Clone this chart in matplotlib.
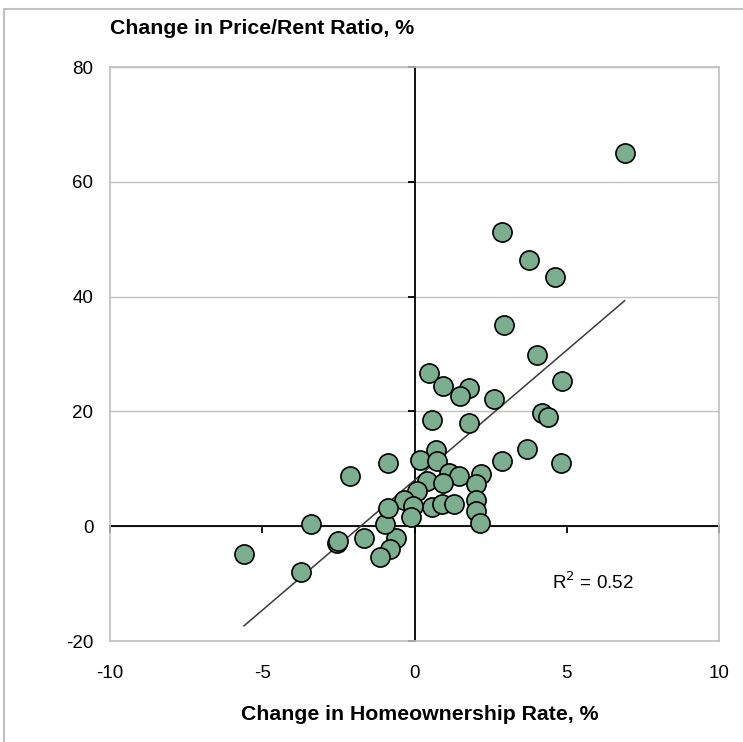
import numpy as np
import matplotlib
matplotlib.use("Agg")
import matplotlib.pyplot as plt
from matplotlib.patches import Rectangle

plt.rcParams['font.family'] = ['Liberation Sans', 'DejaVu Sans']

# change in homeownership rate (%) and change in price/rent ratio (%)
home_change = [6.9, 2.88, 3.77, 4.61, 2.93, 4.03, 0.47, 4.86, 0.93, 1.8,
               1.51, 2.6, 4.19, 4.37, 0.56, 1.8, 0.71, 3.69, 0.17, 0.73,
               2.88, 4.82, 1.13, 1.46, 2.19, 0.4, 0.93, 2.02, 0.08, -0.34,
               -0.05, 0.56, 0.91, 1.29, 2.02, 2.02, -0.12, 2.16, -0.62, -0.81,
               -1.13, -0.97, -0.87, -1.65, -2.56, -2.5, -2.11, -0.87, -3.41, -3.72,
               -5.6]
ratio_change = [65.0, 51.2, 46.3, 43.4, 35.1, 29.8, 26.7, 25.3, 24.5, 24.0,
                22.6, 22.1, 19.7, 19.0, 18.5, 17.9, 13.3, 13.5, 11.6, 11.4,
                11.3, 11.0, 9.3, 8.8, 9.1, 7.9, 7.6, 7.4, 6.2, 4.5,
                3.6, 3.3, 3.9, 3.9, 4.6, 2.6, 1.6, 0.6, -2.0, -4.0,
                -5.3, 0.35, 3.2, -2.1, -2.9, -2.6, 8.7, 11.0, 0.35, -8.0,
                -4.9]

x_ticks = [-10, -5, 0, 5, 10]
y_ticks = [-20, 0, 20, 40, 60, 80]
r2_label = "R$^2$ = 0.52"

x = np.array(home_change)
y = np.array(ratio_change)
slope, intercept = np.polyfit(x, y, 1)

fig = plt.figure(figsize=(7.43, 7.42), dpi=100)
pos = [110 / 743, 1 - 641 / 742, 609 / 743, 574 / 742]

# outer frame
fig.patches.append(Rectangle((4 / 743, -0.1), 1.2, (742 - 9) / 742 + 0.1,
                             transform=fig.transFigure, fill=False,
                             edgecolor='#c0c0c0', linewidth=1.5))

# background axes: gridlines and the axes through zero
ax0 = fig.add_axes(pos)
ax0.set_xlim(-10, 10)
ax0.set_ylim(-20, 80)
ax0.set_xticks(x_ticks)
ax0.set_yticks(y_ticks)
ax0.yaxis.grid(True, color='#c0c0c0', linewidth=1.0)
ax0.set_axisbelow(True)
for side in ['top', 'right']:
    ax0.spines[side].set_visible(False)
ax0.spines['left'].set_position(('data', 0))
ax0.spines['bottom'].set_position(('data', 0))
for side in ['left', 'bottom']:
    ax0.spines[side].set_color('black')
    ax0.spines[side].set_linewidth(1.3)
ax0.tick_params(direction='out', length=5, width=1.3, color='black',
                labelleft=False, labelbottom=False)

# front axes: frame, labels, points and trend line
ax = fig.add_axes(pos)
ax.set_facecolor('none')
ax.set_xlim(-10, 10)
ax.set_ylim(-20, 80)
ax.set_xticks(x_ticks)
ax.set_yticks(y_ticks)
ax.set_xticklabels([str(t) for t in x_ticks])
ax.set_yticklabels([str(t) for t in y_ticks])
for sp in ax.spines.values():
    sp.set_color('#c0c0c0')
    sp.set_linewidth(1.2)
ax.tick_params(axis='y', length=0, pad=12, labelsize=13.5)
ax.tick_params(axis='x', length=0, pad=17, labelsize=13.5)

xs = np.array([x.min(), x.max()])
ax.plot(xs, slope * xs + intercept, color='#3a3a3a', linewidth=1.1, zorder=2)
ax.scatter(x, y, s=190, facecolor='#7bae8e', edgecolor='black',
           linewidth=1.2, zorder=3, clip_on=False)

ax.text(4.5, -9.8, r2_label, fontsize=13.5, ha='left', va='center')

fig.text(110 / 743, 1 - 28 / 742, "Change in Price/Rent Ratio, %",
         fontsize=15.3, fontweight='bold', ha='left', va='center')
fig.text(420 / 743, 1 - 714 / 742, "Change in Homeownership Rate, %",
         fontsize=15.3, fontweight='bold', ha='center', va='center')

fig.savefig("out.png", dpi=100)
